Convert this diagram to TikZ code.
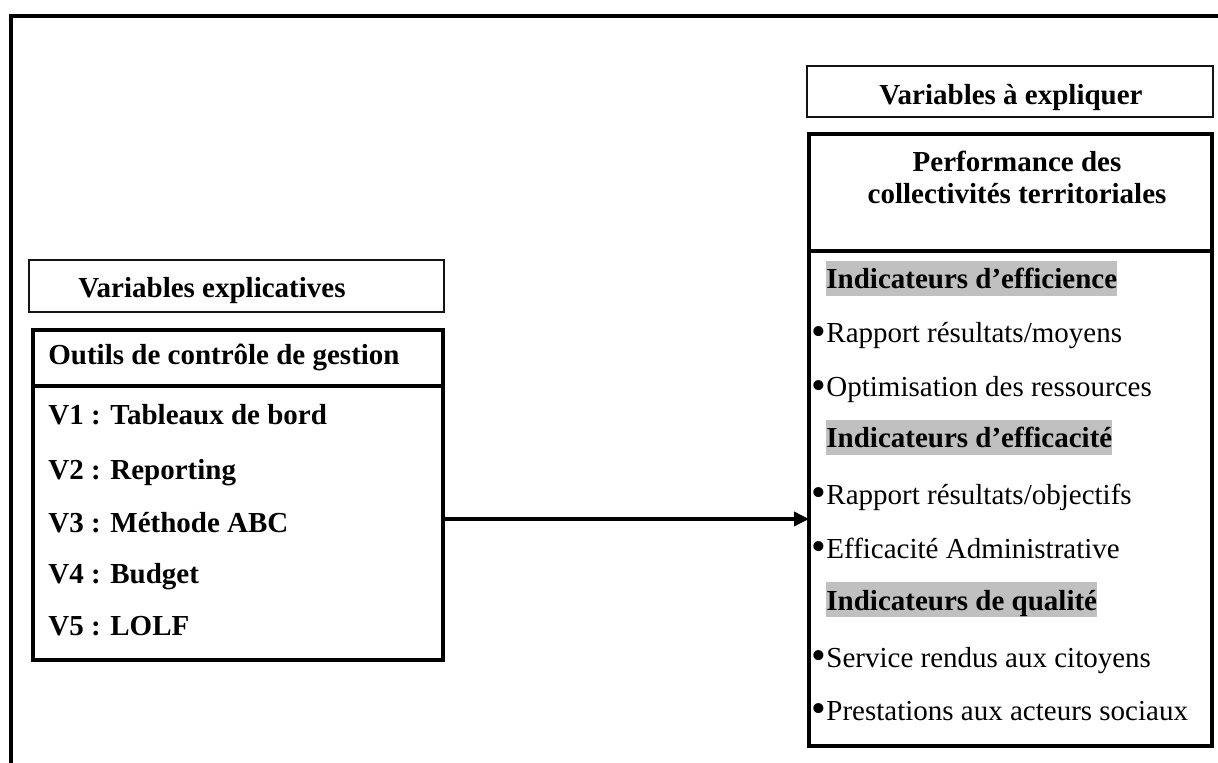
\documentclass[tikz,border=0pt]{standalone}
\usepackage{fontspec}
\setmainfont{Liberation Serif}
\usetikzlibrary{arrows.meta}
\definecolor{hlgray}{RGB}{192,192,192}
\definecolor{linegray}{RGB}{20,20,20}
\newcommand{\bul}{\makebox[8pt][l]{\hspace{0.6pt}\raisebox{-1.4pt}{\scalebox{1.45}{•}}}}
\begin{document}
\begin{tikzpicture}[x=0.5pt,y=-0.5pt,
  thinbox/.style={draw=linegray,line width=0.8pt,inner sep=0pt,outer sep=0pt},
  thickbox/.style={draw=black,line width=2pt,inner sep=0pt,outer sep=0pt},
  txt/.style={anchor=base west,inner sep=0pt,font=\fontsize{14.5}{17}\selectfont},
  btxt/.style={txt,font=\fontsize{14.5}{17}\selectfont\bfseries},
  ctxt/.style={btxt,anchor=base},
  hl/.style={btxt,fill=hlgray,text height=14pt,text depth=3.5pt},
  frameline/.style={line width=2.2pt},
  divline/.style={line width=2pt},
  link/.style={line width=1.7pt,-{Triangle[length=7.5pt,width=7pt]}}]
\useasboundingbox (0,0) rectangle (1218,763);
% outer frame (open on right and bottom)
\coordinate (fbl) at (11,800);
\coordinate (ftl) at (11,16);
\coordinate (ftr) at (1260,16);
\draw[frameline] (fbl) -- (ftl) -- (ftr);

% right side
\node[thinbox,minimum width=203pt,minimum height=25.5pt] (vae) at (1010,91.5) {};
\node[ctxt] (vaet) at (1011,105) {Variables à expliquer};
\node[thickbox,minimum width=201.5pt,minimum height=306pt] (rbox) at (1010.5,440) {};
\draw[divline] (rbox.west |- 0,251) coordinate (rd1) -- (rbox.east |- 0,251) coordinate (rd2);
\node[ctxt] (perf1) at (1017,172) {Performance des};
\node[ctxt] (perf2) at (1017,204) {collectivités territoriales};
\node[hl] (h1) at (826,289) {Indicateurs d’efficience};
\node[txt] (i1) at (810,343) {\bul Rapport résultats/moyens};
\node[txt] (i2) at (810,397) {\bul Optimisation des ressources};
\node[hl] (h2) at (826,448) {Indicateurs d’efficacité};
\node[txt] (i3) at (810,504) {\bul Rapport résultats/objectifs};
\node[txt] (i4) at (810,558) {\bul Efficacité Administrative};
\node[hl] (h3) at (826,610) {Indicateurs de qualité};
\node[txt] (i5) at (810,667) {\bul Service rendus aux citoyens};
\node[txt] (i6) at (810,720) {\bul Prestations aux acteurs sociaux};

% left side
\node[thinbox,minimum width=207.5pt,minimum height=26pt] (vex) at (236.5,286) {};
\node[btxt] (vext) at (78,298) {Variables explicatives};
\node[thickbox,minimum width=205pt,minimum height=165pt] (lbox) at (238,495) {};
\draw[divline] (lbox.west |- 0,386) coordinate (ld1) -- (lbox.east |- 0,386) coordinate (ld2);
\node[btxt] (outils) at (48,365) {Outils de contrôle de gestion};
\node[btxt] (v1) at (48,425) {V1 : Tableaux de bord};
\node[btxt] (v2) at (48,480) {V2 : Reporting};
\node[btxt] (v3) at (48,532) {V3 : Méthode ABC};
\node[btxt] (v4) at (48,583) {V4 : Budget};
\node[btxt] (v5) at (48,635) {V5 : LOLF};

% connector
\draw[link] (lbox.east |- 0,519) -- (rbox.west |- 0,519);
\end{tikzpicture}
\end{document}
